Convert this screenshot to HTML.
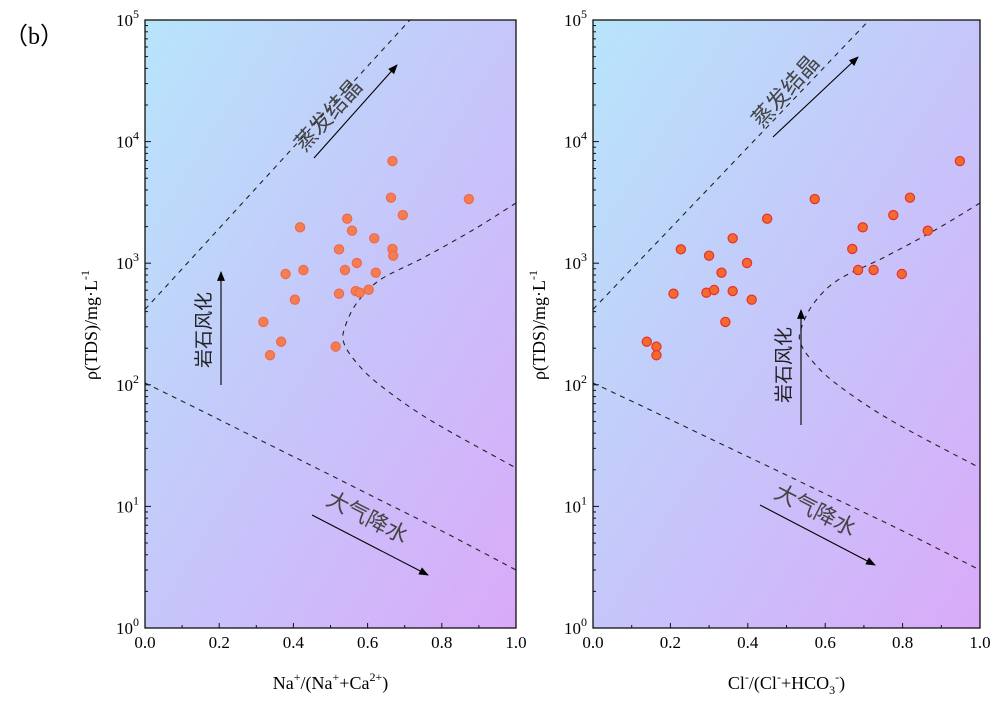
<!DOCTYPE html>
<html><head><meta charset="utf-8"><style>
body{margin:0;background:#fff;}
svg text{font-family:"Liberation Serif","Noto Serif CJK SC",serif;}
.cn{font-family:"Liberation Serif","Noto Sans CJK SC",sans-serif;}
</style></head><body>
<svg id="chart" width="998" height="700" viewBox="0 0 998 700" xmlns="http://www.w3.org/2000/svg">
<defs>
<linearGradient id="bg" x1="0" y1="0" x2="1" y2="1">
<stop offset="0" stop-color="#b7e5fb"/><stop offset="0.5" stop-color="#c6c6fa"/><stop offset="1" stop-color="#d9aaf9"/>
</linearGradient>
<marker id="ah" viewBox="0 0 10 10" refX="9" refY="5" markerWidth="9" markerHeight="9" orient="auto-start-reverse"><path d="M0,1 L10,5 L0,9 z" fill="#000"/></marker>
</defs>
<text x="4" y="44" font-size="24" class="cn">（b）</text>
</svg>
<script>
const naRatio=[0.667,0.663,0.873,0.695,0.418,0.545,0.558,0.618,0.523,0.667,0.669,0.571,0.427,0.379,0.539,0.622,0.523,0.568,0.579,0.603,0.404,0.319,0.367,0.337,0.514];
const tds1=[6920,3460,3370,2490,1973,2323,1850,1603,1300,1309,1153,1004,879,815,879,836,561,590,572,605,501,329,226,175,206];
const clRatio=[0.948,0.573,0.819,0.776,0.450,0.697,0.865,0.361,0.227,0.670,0.300,0.398,0.685,0.725,0.332,0.798,0.208,0.293,0.313,0.361,0.410,0.342,0.139,0.164,0.164];
const tds2=[6920,3370,3460,2490,2323,1973,1850,1603,1300,1309,1153,1004,879,879,836,815,561,572,602,590,501,329,226,206,175];
const xTicks=[0,0.2,0.4,0.6,0.8,1.0];
const xTickLabels=["0.0","0.2","0.4","0.6","0.8","1.0"];
const yDecades=[0,1,2,3,4,5];
const upperLine=[[0,2.62],[0.714,5]];
const lowerLine=[[0,2.015],[0.148,1.793],[0.31,1.546],[0.472,1.30],[0.633,1.053],[0.795,0.806],[1,0.477]];
const gibbsCurve=[[1,3.495],[0.884,3.273],[0.749,3.043],[0.633,2.862],[0.571,2.673],[0.539,2.475],[0.536,2.344],[0.571,2.179],[0.633,1.998],[0.768,1.711],[1,1.316]];

const svg=document.getElementById('chart');
const NS='http://www.w3.org/2000/svg';
function mk(tag,attrs,parent){const e=document.createElementNS(NS,tag);for(const k in attrs)e.setAttribute(k,attrs[k]);(parent||svg).appendChild(e);return e;}
function smooth(pts){let d='M'+pts[0][0]+','+pts[0][1];for(let i=0;i<pts.length-1;i++){const p0=pts[i-1]||pts[i],p1=pts[i],p2=pts[i+1],p3=pts[i+2]||p2;
const c1=[p1[0]+(p2[0]-p0[0])/6,p1[1]+(p2[1]-p0[1])/6],c2=[p2[0]-(p3[0]-p1[0])/6,p2[1]-(p3[1]-p1[1])/6];d+=' C'+c1+' '+c2+' '+p2;}return d;}

function panel(cfg){
  const L=cfg.x0,R=cfg.x1,T=20,B=628;
  const X=v=>L+v*(R-L), Y=lg=>B-lg*(B-T)/5;
  const g=mk('g',{});
  
  
  const bg=mk('rect',{x:L,y:T,width:R-L,height:B-T,fill:'url(#bg)'},g);
  
  
  const c1=mk('path',{d:'M'+upperLine.map(p=>[X(p[0]),Y(p[1])]).join(' L'),fill:'none',stroke:'#222','stroke-width':1.1,'stroke-dasharray':'5,5'},g);
  
  
  const c2=mk('path',{d:smooth(lowerLine.map(p=>[X(p[0]),Y(p[1])])),fill:'none',stroke:'#222','stroke-width':1.1,'stroke-dasharray':'5,5'},g);
  
  
  const c3=mk('path',{d:smooth(gibbsCurve.map(p=>[X(p[0]),Y(p[1])])),fill:'none',stroke:'#222','stroke-width':1.1,'stroke-dasharray':'5,5'},g);
  
  
  cfg.xs.forEach((v,i)=>{const c=mk('circle',{cx:X(v),cy:Y(Math.log10(cfg.ys[i])),r:4.6,fill:cfg.fill,stroke:cfg.stroke,'stroke-width':1.2},g);
    
    });
  const fr=mk('rect',{x:L,y:T,width:R-L,height:B-T,fill:'none',stroke:'#111','stroke-width':1.3},g);
  
  
  xTicks.forEach((v,i)=>{mk('line',{x1:X(v),x2:X(v),y1:B,y2:B-5,stroke:'#111'},g);
    const t=mk('text',{x:X(v),y:B+20,'font-size':17,'text-anchor':'middle'},g);t.textContent=xTickLabels[i];
    
    });
  for(let v=0.1;v<1;v+=0.2)mk('line',{x1:X(v),x2:X(v),y1:B,y2:B-3,stroke:'#111'},g);
  yDecades.forEach(d=>{mk('line',{x1:L,x2:L+6,y1:Y(d),y2:Y(d),stroke:'#111'},g);
    const t=mk('text',{x:L-6,y:Y(d)+6,'font-size':17,'text-anchor':'end'},g);
    t.innerHTML='10<tspan dy="-8" font-size="12">'+d+'</tspan>';
    
    
    if(d<5)for(let k=2;k<10;k++){const yy=Y(d+Math.log10(k));mk('line',{x1:L,x2:L+3,y1:yy,y2:yy,stroke:'#111'},g);}});
  const xt=mk('text',{x:(L+R)/2,y:689,'font-size':18,'text-anchor':'middle'},g);
  xt.innerHTML=cfg.xTitle;
  
  
  const yt=mk('text',{x:0,y:0,'font-size':18,'text-anchor':'middle',transform:'translate('+(L-48)+',325) rotate(-90)'},g);
  yt.innerHTML='ρ(TDS)/mg·L<tspan dy="-8" font-size="12">-1</tspan>';
  
  
  const an=cfg.ann;
  const a1=mk('line',{x1:an.ev[0],y1:an.ev[1],x2:an.ev[2],y2:an.ev[3],stroke:'#000','stroke-width':1.1,'marker-end':'url(#ah)'},g);
  
  const t1=mk('text',{class:'cn','font-size':22,fill:'#444','text-anchor':'middle',transform:'translate('+an.evt[0]+','+an.evt[1]+') rotate(-48)'},g);t1.textContent='蒸发结晶';
  
  const a2=mk('line',{x1:an.rk[0],y1:an.rk[1],x2:an.rk[0],y2:an.rk[2],stroke:'#000','stroke-width':1.1,'marker-end':'url(#ah)'},g);
  
  const t2=mk('text',{class:'cn','font-size':19,fill:'#222','text-anchor':'middle',transform:'translate('+an.rkt[0]+','+an.rkt[1]+') rotate(-90)'},g);t2.textContent='岩石风化';
  
  const a3=mk('line',{x1:an.rn[0],y1:an.rn[1],x2:an.rn[2],y2:an.rn[3],stroke:'#000','stroke-width':1.1,'marker-end':'url(#ah)'},g);
  
  const t3=mk('text',{class:'cn','font-size':22,fill:'#444','text-anchor':'middle',transform:'translate('+an.rnt[0]+','+an.rnt[1]+') rotate(27)'},g);t3.textContent='大气降水';
  
}
panel({name:'left-panel',x0:145,x1:516,xs:naRatio,ys:tds1,fill:'#f47e52',stroke:'#f0684a',
  xTitle:'Na<tspan dy="-8" font-size="12">+</tspan><tspan dy="8">/(Na</tspan><tspan dy="-8" font-size="12">+</tspan><tspan dy="8">+Ca</tspan><tspan dy="-8" font-size="12">2+</tspan><tspan dy="8">)</tspan>',
  ann:{ev:[314,158,397,65],evt:[334,120],rk:[221,385,272],rkt:[210,330],rn:[312,515,428,575],rnt:[364,524]}});
panel({name:'right-panel',x0:593,x1:980,xs:clRatio,ys:tds2,fill:'#f26a30',stroke:'#e8302a',
  xTitle:'Cl<tspan dy="-8" font-size="12">-</tspan><tspan dy="8">/(Cl</tspan><tspan dy="-8" font-size="12">-</tspan><tspan dy="8">+HCO</tspan><tspan dy="5" font-size="12">3</tspan><tspan dy="-13" font-size="12">-</tspan><tspan dy="8">)</tspan>',
  ann:{ev:[773,137,858,57],evt:[791,96],rk:[801,425,310],rkt:[790,365],rn:[760,505,875,565],rnt:[812,517]}});
</script>
</body></html>
